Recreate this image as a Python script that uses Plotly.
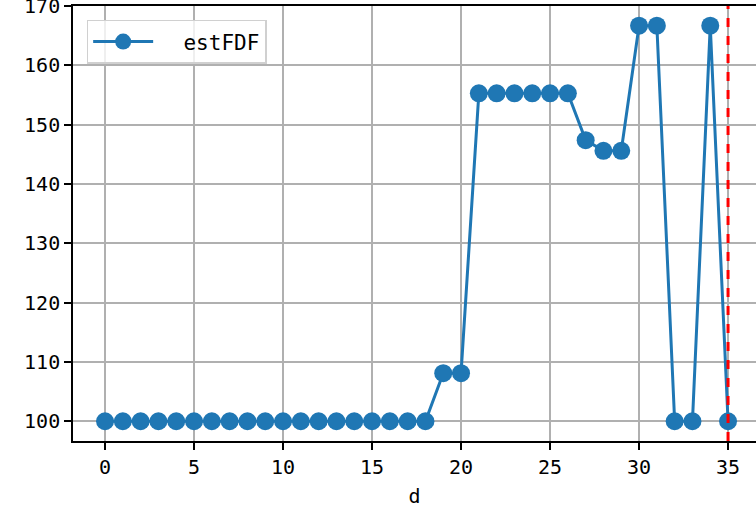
import plotly.graph_objects as go

d_values = list(range(36))
est_fdf = [100.0] * 19 + [108.1, 108.1] + [155.3] * 6 + [147.4, 145.6, 145.6, 166.7, 166.7, 100.0, 100.0, 166.7, 100.0]
series_name = "  estFDF"
vline_x = 35
x_ticks = [0, 5, 10, 15, 20, 25, 30, 35]
y_ticks = [100, 110, 120, 130, 140, 150, 160, 170]

FONT = "DejaVu Sans Mono"
BLUE = "#1f77b4"

fig = go.Figure()
fig.add_trace(go.Scatter(
    x=d_values, y=est_fdf, mode="lines+markers", name=series_name,
    line=dict(color=BLUE, width=3),
    marker=dict(color=BLUE, size=18),
))
fig.add_shape(type="line", xref="x", yref="paper", x0=vline_x, x1=vline_x, y0=0, y1=1,
              line=dict(color="red", width=3, dash="dash"), layer="above")

fig.update_layout(
    width=756, height=512,
    margin=dict(l=73, r=0, t=6, b=71, autoexpand=False),
    paper_bgcolor="white", plot_bgcolor="white",
    font=dict(family=FONT, size=20, color="black"),
    showlegend=True,
    legend=dict(x=0.02, y=0.968, xanchor="left", yanchor="top", itemwidth=60,
                bgcolor="rgba(255,255,255,0.8)", bordercolor="#d0d0d0", borderwidth=1.5,
                font=dict(family=FONT, size=21)),
    xaxis=dict(range=[-1.8, 36.57], tickvals=x_ticks, showgrid=True, gridcolor="#b0b0b0", gridwidth=1.5,
               showline=True, linecolor="black", linewidth=1.6, mirror=True, automargin=False,
               ticks="outside", ticklen=7, tickwidth=1.6, tickcolor="black",
               zeroline=False, title=dict(text="d", font=dict(family=FONT, size=20), standoff=11)),
    yaxis=dict(range=[96.67, 170.02], tickvals=y_ticks, showgrid=True, gridcolor="#b0b0b0", gridwidth=1.5,
               showline=True, linecolor="black", linewidth=1.6, mirror=False, automargin=False,
               ticklabeloverflow="allow",
               ticks="outside", ticklen=7, tickwidth=1.6, tickcolor="black", zeroline=False),
)
fig.write_html("out.html", config={"displayModeBar": False},
               post_script="document.body.style.margin='0';document.body.style.overflow='hidden';")
